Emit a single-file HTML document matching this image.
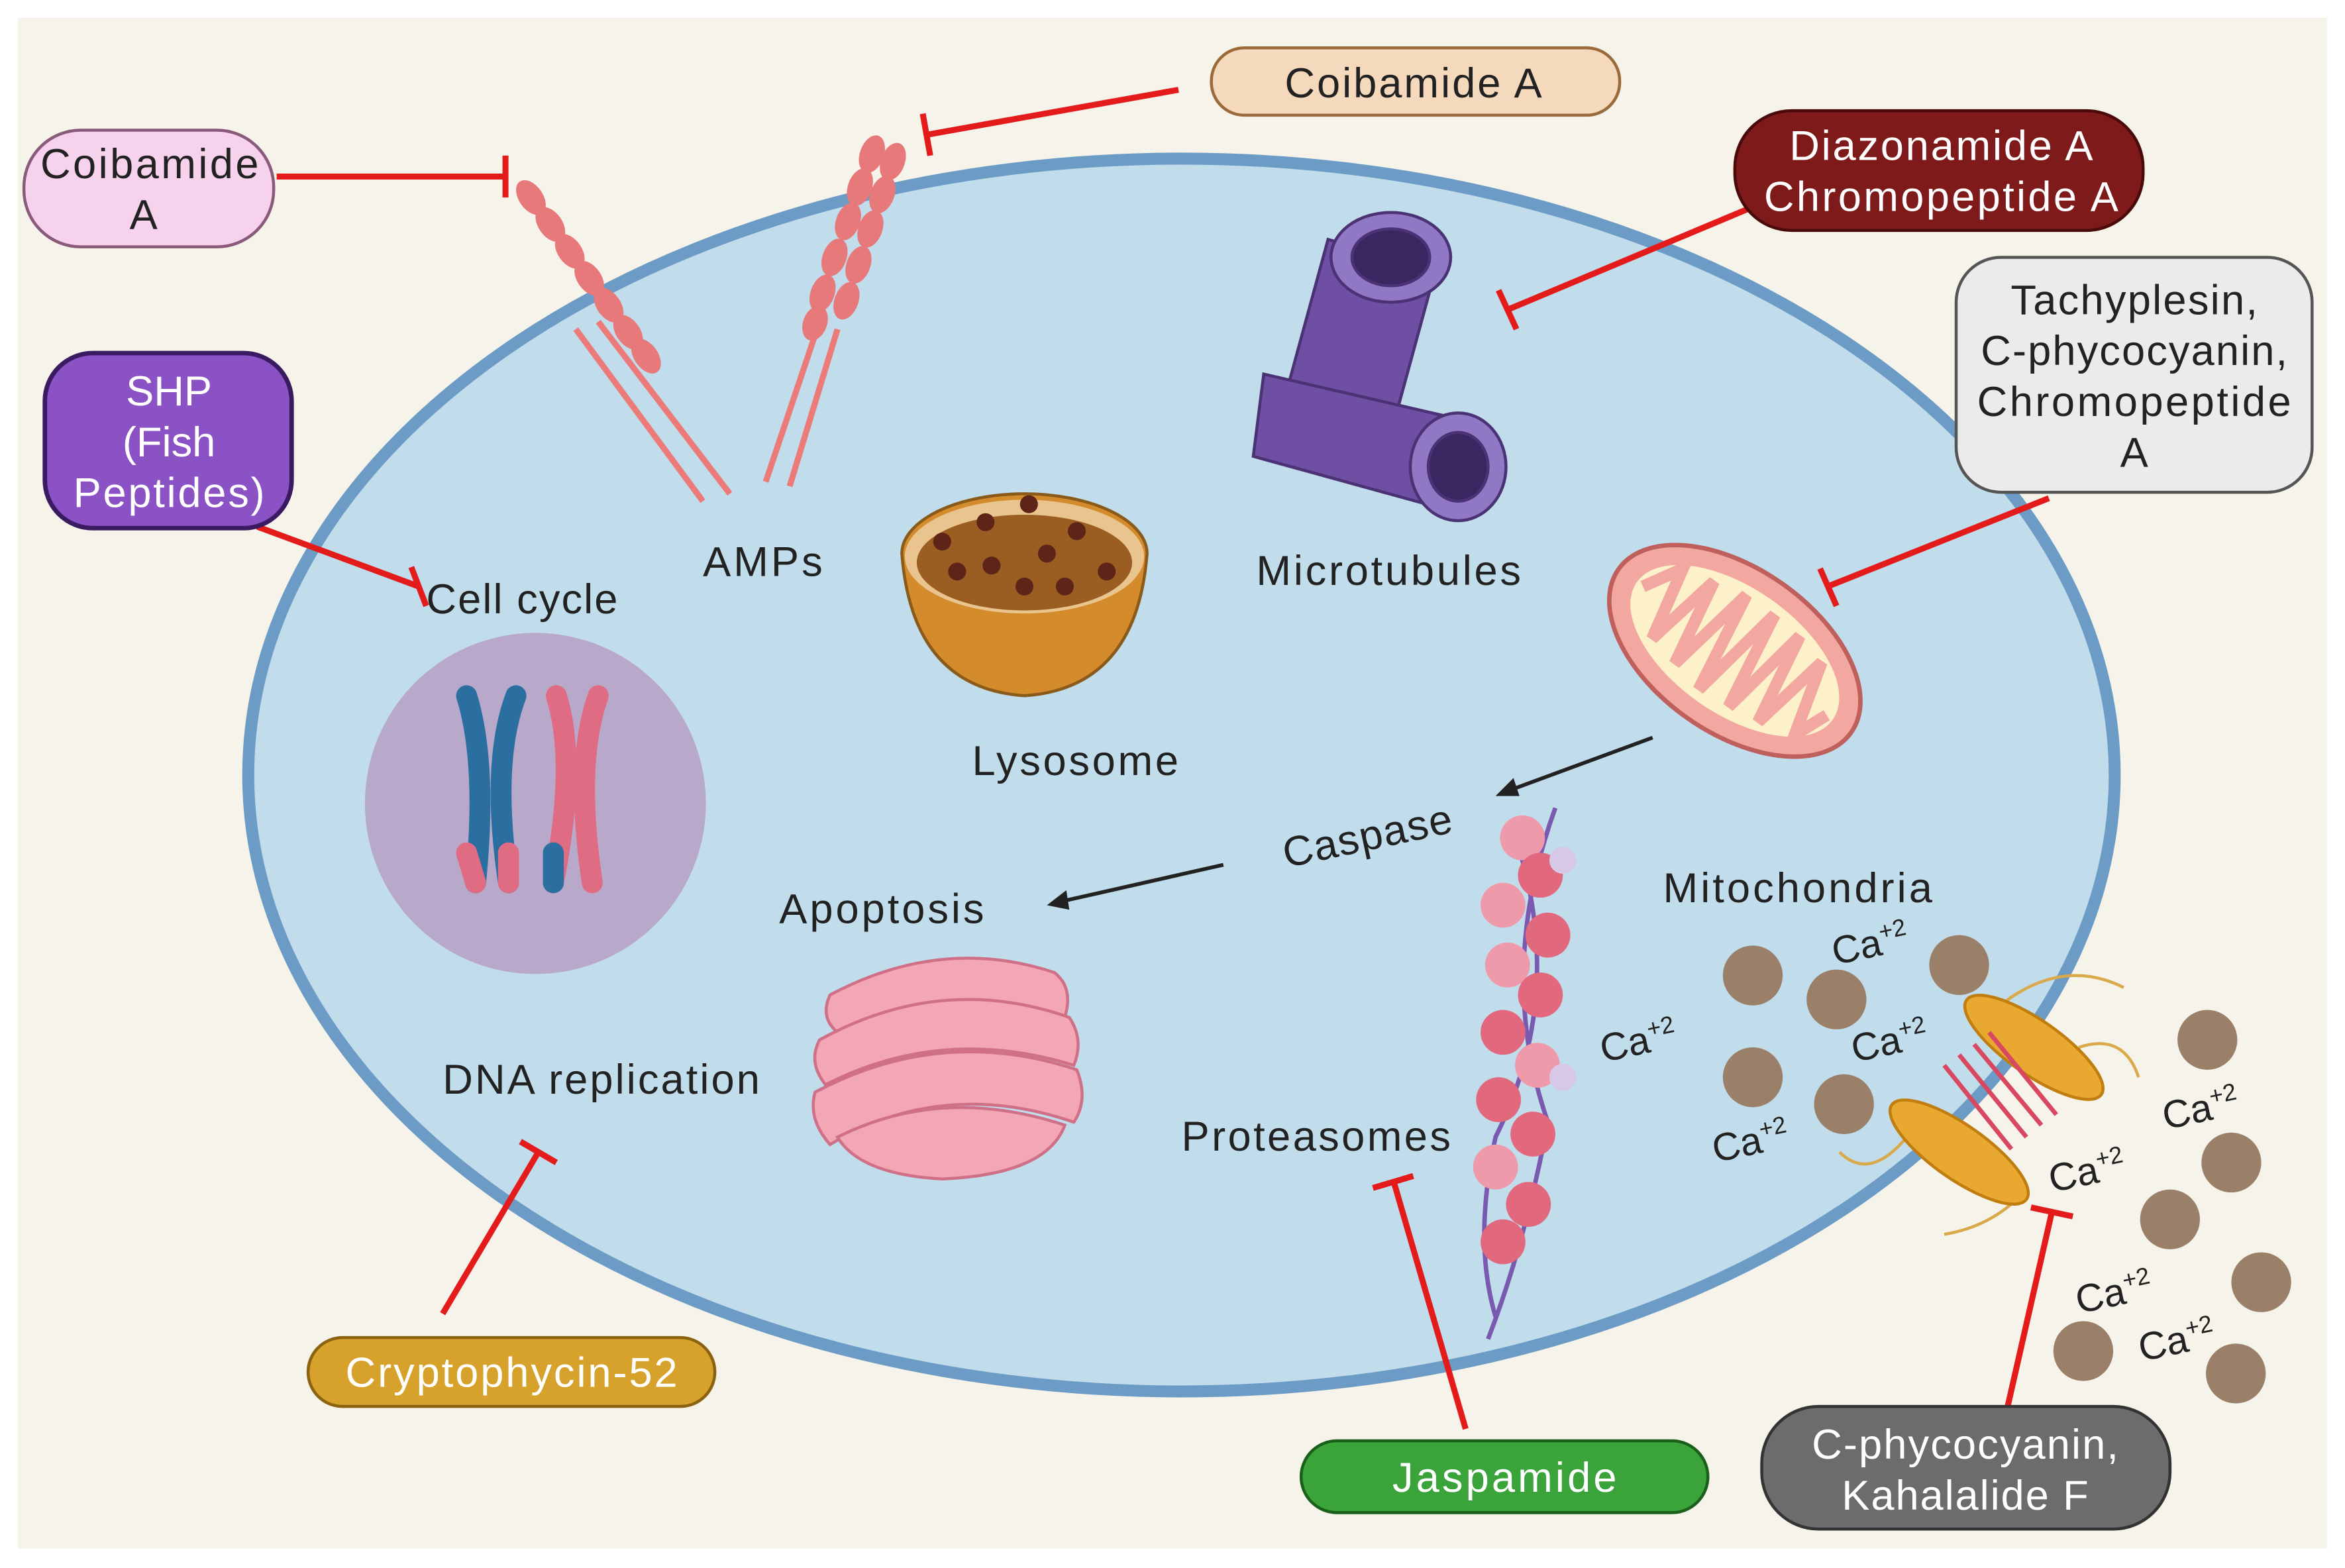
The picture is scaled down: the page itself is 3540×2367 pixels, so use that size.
<!DOCTYPE html>
<html><head><meta charset="utf-8"><style>
html,body{margin:0;padding:0;background:#fff}
svg{display:block}
text{font-family:"Liberation Sans",sans-serif}
</style></head><body>
<svg width="3540" height="2367" viewBox="0 0 1568 1048" preserveAspectRatio="none" xmlns="http://www.w3.org/2000/svg">
<rect x="0" y="0" width="1568" height="1048" fill="#fff"/>
<rect x="12" y="12" width="1544" height="1023" fill="#f6f3ea"/>
<ellipse cx="790" cy="518" rx="624" ry="412" fill="#c1dcea" stroke="#6c9cc6" stroke-width="8"/>

<!-- nucleus -->
<circle cx="358" cy="537" r="114" fill="#b8a9cb"/>
<g stroke-linecap="round" stroke-width="14" fill="none">
<path d="M312 465 Q326 510 318 590" stroke="#2a6fa0"/>
<path d="M345 465 Q328 510 340 590" stroke="#2a6fa0"/>
<path d="M372 465 Q386 510 370 590" stroke="#e06c84"/>
<path d="M400 465 Q384 510 396 590" stroke="#e06c84"/>
</g>
<path d="M312 570 L318 590 M340 570 L340 590" stroke="#e06c84" stroke-width="14" stroke-linecap="round"/>
<path d="M370 570 L370 590" stroke="#2a6fa0" stroke-width="14" stroke-linecap="round"/>

<!-- AMPs receptors -->
<g stroke="#ec7a78" stroke-width="4">
<line x1="400" y1="215" x2="488" y2="330"/><line x1="385" y1="220" x2="470" y2="335"/>
<line x1="560" y1="220" x2="528" y2="325"/><line x1="548" y1="215" x2="512" y2="322"/>
</g>
<g fill="#e8797a">
<ellipse cx="355" cy="132" rx="8" ry="13" transform="rotate(-35 355 132)"/>
<ellipse cx="368" cy="150" rx="8" ry="13" transform="rotate(-35 368 150)"/>
<ellipse cx="381" cy="168" rx="8" ry="13" transform="rotate(-35 381 168)"/>
<ellipse cx="394" cy="186" rx="8" ry="13" transform="rotate(-35 394 186)"/>
<ellipse cx="407" cy="204" rx="8" ry="13" transform="rotate(-35 407 204)"/>
<ellipse cx="420" cy="222" rx="8" ry="13" transform="rotate(-35 420 222)"/>
<ellipse cx="432" cy="238" rx="8" ry="13" transform="rotate(-35 432 238)"/>
<ellipse cx="583" cy="103" rx="8" ry="13" transform="rotate(20 583 103)"/>
<ellipse cx="597" cy="108" rx="8" ry="13" transform="rotate(20 597 108)"/>
<ellipse cx="575" cy="125" rx="8" ry="13" transform="rotate(20 575 125)"/>
<ellipse cx="590" cy="130" rx="8" ry="13" transform="rotate(20 590 130)"/>
<ellipse cx="567" cy="148" rx="8" ry="13" transform="rotate(20 567 148)"/>
<ellipse cx="582" cy="153" rx="8" ry="13" transform="rotate(20 582 153)"/>
<ellipse cx="558" cy="172" rx="8" ry="13" transform="rotate(20 558 172)"/>
<ellipse cx="574" cy="177" rx="8" ry="13" transform="rotate(20 574 177)"/>
<ellipse cx="550" cy="196" rx="8" ry="13" transform="rotate(20 550 196)"/>
<ellipse cx="566" cy="201" rx="8" ry="13" transform="rotate(20 566 201)"/>
<ellipse cx="545" cy="216" rx="8" ry="12" transform="rotate(20 545 216)"/>
</g>

<!-- lysosome -->
<path d="M603 370 A82 40 0 0 1 767 370 Q760 460 685 465 Q610 460 603 370Z" fill="#d38b2c" stroke="#8a5a1a" stroke-width="2"/>
<ellipse cx="685" cy="372" rx="80" ry="38" fill="#e9c48e"/>
<ellipse cx="685" cy="376" rx="72" ry="32" fill="#9a5e22"/>
<g fill="#5e2418"><circle cx="630" cy="362" r="6"/><circle cx="659" cy="349" r="6"/><circle cx="688" cy="337" r="6"/><circle cx="720" cy="355" r="6"/><circle cx="663" cy="378" r="6"/><circle cx="700" cy="370" r="6"/><circle cx="640" cy="382" r="6"/><circle cx="685" cy="392" r="6"/><circle cx="740" cy="382" r="6"/><circle cx="712" cy="392" r="6"/></g>

<!-- microtubules -->
<g fill="#6f4fa3" stroke="#4a3275" stroke-width="2">
<path d="M888 160 L960 180 L930 290 L858 270Z"/>
<ellipse cx="930" cy="172" rx="40" ry="30" fill="#9078c4"/>
<ellipse cx="930" cy="172" rx="26" ry="19" fill="#3a2660"/>
<path d="M845 250 L975 280 L965 340 L838 305Z"/>
<ellipse cx="975" cy="312" rx="32" ry="36" fill="#9078c4"/>
<ellipse cx="975" cy="312" rx="20" ry="23" fill="#3a2660"/>
</g>

<!-- mitochondria -->
<g transform="rotate(35 1160 435)">
<ellipse cx="1160" cy="435" rx="95" ry="55" fill="#f2a7a0" stroke="#c0605d" stroke-width="3"/>
<ellipse cx="1160" cy="435" rx="80" ry="42" fill="#fdf1c9"/>
<path d="M1085 435 L1100 410 L1110 460 L1122 405 L1132 465 L1145 400 L1155 470 L1168 400 L1178 468 L1190 402 L1200 465 L1212 408 L1225 458 L1235 435" fill="none" stroke="#f2a7a0" stroke-width="8"/>
</g>

<!-- golgi -->
<g fill="#f3a6b4" stroke="#d07088" stroke-width="2">
<path d="M555 665 Q630 625 705 650 Q718 660 712 680 Q630 655 560 690 Q548 680 555 665Z"/>
<path d="M548 695 Q630 650 715 680 Q725 695 718 712 Q630 685 552 725 Q540 710 548 695Z"/>
<path d="M545 730 Q630 685 720 715 Q728 735 718 750 Q630 720 555 765 Q540 748 545 730Z"/>
<path d="M560 760 Q630 725 712 752 Q700 785 630 788 Q575 785 560 760Z"/>
</g>

<!-- proteasome / actin -->
<path d="M1040 540 Q1000 650 1035 750 Q1020 830 995 895" fill="none" stroke="#7a5ab0" stroke-width="3"/>
<path d="M1010 550 Q1050 660 1000 760 Q985 830 1000 880" fill="none" stroke="#7a5ab0" stroke-width="3"/>
<g fill="#e2687e">
<circle cx="1018" cy="560" r="15" fill="#ef9aaa"/><circle cx="1030" cy="585" r="15"/><circle cx="1005" cy="605" r="15" fill="#ef9aaa"/><circle cx="1035" cy="625" r="15"/><circle cx="1008" cy="645" r="15" fill="#ef9aaa"/><circle cx="1030" cy="665" r="15"/><circle cx="1005" cy="690" r="15"/><circle cx="1028" cy="712" r="15" fill="#ef9aaa"/><circle cx="1002" cy="735" r="15"/><circle cx="1025" cy="758" r="15"/><circle cx="1000" cy="780" r="15" fill="#ef9aaa"/><circle cx="1022" cy="805" r="15"/><circle cx="1005" cy="830" r="15"/>
</g>
<circle cx="1045" cy="575" r="9" fill="#d8c8e8"/><circle cx="1045" cy="720" r="9" fill="#d8c8e8"/>

<!-- calcium channel -->
<g stroke="#d9a94a" stroke-width="2" fill="none">
<path d="M1340 670 Q1380 640 1420 660"/><path d="M1275 760 Q1250 790 1230 770"/><path d="M1350 800 Q1330 820 1300 825"/><path d="M1390 700 Q1420 690 1430 720"/>
</g>
<g fill="#e9a930" stroke="#c07e10" stroke-width="2">
<ellipse cx="1360" cy="700" rx="55" ry="18" transform="rotate(35 1360 700)"/>
<ellipse cx="1310" cy="770" rx="55" ry="18" transform="rotate(35 1310 770)"/>
</g>
<g stroke="#d84860" stroke-width="3">
<line x1="1310" y1="705" x2="1355" y2="760"/><line x1="1320" y1="698" x2="1365" y2="752"/><line x1="1330" y1="690" x2="1375" y2="745"/><line x1="1300" y1="712" x2="1345" y2="768"/>
</g>
<g fill="#9a8068">
<circle cx="1172" cy="652" r="20"/><circle cx="1228" cy="668" r="20"/><circle cx="1310" cy="645" r="20"/><circle cx="1172" cy="720" r="20"/><circle cx="1233" cy="738" r="20"/><circle cx="1476" cy="695" r="20"/><circle cx="1492" cy="777" r="20"/><circle cx="1451" cy="815" r="20"/><circle cx="1512" cy="857" r="20"/><circle cx="1393" cy="903" r="20"/><circle cx="1495" cy="918" r="20"/>
</g>

<!-- black arrows -->
<g stroke="#222" stroke-width="2.5">
<line x1="1105" y1="493" x2="1010" y2="528"/><line x1="818" y1="578" x2="712" y2="602"/>
</g>
<path d="M1000 532 L1012 520 L1016 532Z" fill="#222"/>
<path d="M700 605 L713 595 L715 608Z" fill="#222"/>

<!-- red inhibition lines -->
<g stroke="#e41b1b" stroke-width="4">
<line x1="185" y1="118" x2="338" y2="118"/><line x1="338" y1="104" x2="338" y2="132"/>
<line x1="788" y1="60" x2="620" y2="90"/><line x1="617" y1="76" x2="622" y2="104"/>
<line x1="1168" y1="140" x2="1008" y2="207"/><line x1="1002" y1="194" x2="1014" y2="220"/>
<line x1="172" y1="352" x2="280" y2="392"/><line x1="275" y1="379" x2="285" y2="405"/>
<line x1="1370" y1="333" x2="1222" y2="392"/><line x1="1217" y1="380" x2="1228" y2="405"/>
<line x1="296" y1="878" x2="360" y2="770"/><line x1="348" y1="763" x2="372" y2="777"/>
<line x1="980" y1="955" x2="932" y2="790"/><line x1="918" y1="794" x2="945" y2="786"/>
<line x1="1342" y1="942" x2="1372" y2="810"/><line x1="1358" y1="807" x2="1386" y2="813"/>
</g>

<!-- labels -->
<g font-size="28" fill="#222">
<text x="470" y="385" textLength="80">AMPs</text>
<text x="285" y="410" textLength="128">Cell cycle</text>
<text x="840" y="391" textLength="177">Microtubules</text>
<text x="650" y="518" textLength="138">Lysosome</text>
<text x="521" y="617" textLength="137">Apoptosis</text>
<text x="860" y="580" transform="rotate(-12 860 580)" textLength="115">Caspase</text>
<text x="1112" y="603" textLength="180">Mitochondria</text>
<text x="296" y="731" textLength="212">DNA replication</text>
<text x="790" y="769" textLength="180">Proteasomes</text>
</g>
<g font-size="26" fill="#222">
<text x="1227" y="645" transform="rotate(-12 1227 645)">Ca<tspan font-size="16" dy="-10">+2</tspan></text>
<text x="1072" y="710" transform="rotate(-12 1072 710)">Ca<tspan font-size="16" dy="-10">+2</tspan></text>
<text x="1240" y="710" transform="rotate(-12 1240 710)">Ca<tspan font-size="16" dy="-10">+2</tspan></text>
<text x="1147" y="777" transform="rotate(-12 1147 777)">Ca<tspan font-size="16" dy="-10">+2</tspan></text>
<text x="1372" y="797" transform="rotate(-12 1372 797)">Ca<tspan font-size="16" dy="-10">+2</tspan></text>
<text x="1448" y="755" transform="rotate(-12 1448 755)">Ca<tspan font-size="16" dy="-10">+2</tspan></text>
<text x="1390" y="878" transform="rotate(-12 1390 878)">Ca<tspan font-size="16" dy="-10">+2</tspan></text>
<text x="1432" y="910" transform="rotate(-12 1432 910)">Ca<tspan font-size="16" dy="-10">+2</tspan></text>
</g>

<!-- boxes -->
<rect x="16" y="87" width="167" height="78" rx="38" fill="#f7d2ec" stroke="#8a5a7a" stroke-width="2"/>
<text x="100" y="119" font-size="28" text-anchor="middle" fill="#222" textLength="146">Coibamide</text>
<text x="96" y="153" font-size="28" text-anchor="middle" fill="#222">A</text>

<rect x="810" y="32" width="273" height="45" rx="22" fill="#f4d9bc" stroke="#9a6a3a" stroke-width="2"/>
<text x="945" y="65" font-size="28" text-anchor="middle" fill="#222" textLength="172">Coibamide A</text>

<rect x="1160" y="74" width="273" height="80" rx="38" fill="#7e1a1a" stroke="#4a0a0a" stroke-width="2"/>
<text x="1298" y="107" font-size="28" text-anchor="middle" fill="#fff" textLength="203">Diazonamide A</text>
<text x="1298" y="141" font-size="28" text-anchor="middle" fill="#fff" textLength="237">Chromopeptide A</text>

<rect x="1308" y="172" width="238" height="157" rx="30" fill="#ebebeb" stroke="#555" stroke-width="2"/>
<g font-size="28" text-anchor="middle" fill="#222">
<text x="1427" y="210" textLength="165">Tachyplesin,</text><text x="1427" y="244" textLength="205">C-phycocyanin,</text><text x="1427" y="278" textLength="210">Chromopeptide</text><text x="1427" y="312">A</text>
</g>

<rect x="30" y="236" width="165" height="117" rx="32" fill="#8a52c4" stroke="#3a1a60" stroke-width="3"/>
<g font-size="28" text-anchor="middle" fill="#fff">
<text x="113" y="271">SHP</text><text x="113" y="305">(Fish</text><text x="113" y="339" textLength="128">Peptides)</text>
</g>

<rect x="206" y="894" width="272" height="46" rx="23" fill="#d6a22c" stroke="#8a6210" stroke-width="2"/>
<text x="342" y="927" font-size="28" text-anchor="middle" fill="#fff" textLength="222">Cryptophycin-52</text>

<rect x="870" y="963" width="272" height="48" rx="24" fill="#3aa43a" stroke="#1a601a" stroke-width="2"/>
<text x="1006" y="997" font-size="28" text-anchor="middle" fill="#fff" textLength="150">Jaspamide</text>

<rect x="1178" y="940" width="273" height="82" rx="38" fill="#6c6c6c" stroke="#333" stroke-width="2"/>
<text x="1314" y="975" font-size="28" text-anchor="middle" fill="#fff" textLength="205">C-phycocyanin,</text>
<text x="1314" y="1009" font-size="28" text-anchor="middle" fill="#fff" textLength="165">Kahalalide F</text>
</svg>
</body></html>
